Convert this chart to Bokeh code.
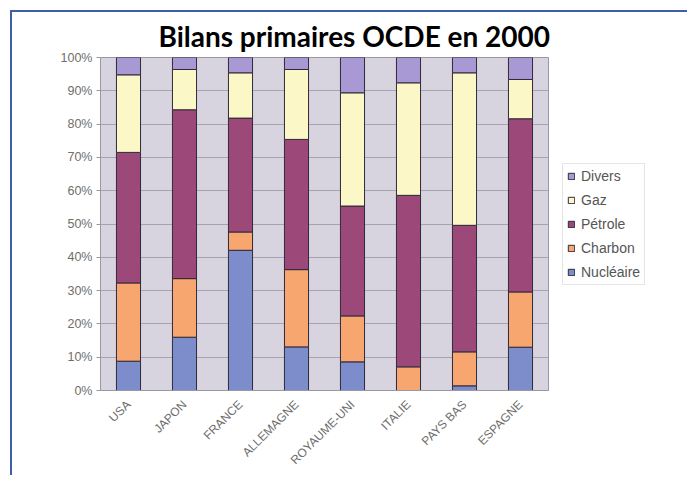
import math
from bokeh.plotting import figure
from bokeh.models import (FactorRange, Range1d, NumeralTickFormatter, FixedTicker,
                          Legend, LegendItem, ColumnDataSource)
from bokeh.embed import file_html
from bokeh.resources import INLINE

countries = ["USA", "JAPON", "FRANCE", "ALLEMAGNE", "ROYAUME-UNI", "ITALIE", "PAYS BAS", "ESPAGNE"]
nucleaire = [8.8, 16.0, 42.1, 13.1, 8.6, 0.0, 1.4, 13.0]
charbon = [23.5, 17.6, 5.5, 23.2, 13.8, 7.1, 10.2, 16.6]
petrole = [39.2, 50.7, 34.2, 39.1, 33.0, 51.5, 38.0, 52.0]
gaz = [23.3, 12.1, 13.6, 21.0, 34.0, 33.8, 45.8, 11.8]
divers = [5.2, 3.6, 4.6, 3.6, 10.6, 7.6, 4.6, 6.6]

series = ["Nucléaire", "Charbon", "Pétrole", "Gaz", "Divers"]
colors = ["#7d8dcc", "#f6a66e", "#9c4878", "#fbf7c6", "#a898d4"]
yticks = [0, 10, 20, 30, 40, 50, 60, 70, 80, 90, 100]

data = {"country": countries}
for name, vals in zip(series, [nucleaire, charbon, petrole, gaz, divers]):
    data[name] = [v / 100.0 for v in vals]
src = ColumnDataSource(data)

p = figure(x_range=FactorRange(*countries, range_padding=0), y_range=Range1d(0, 1),
           frame_width=448, frame_height=333, output_backend="svg", toolbar_location=None,
           min_border_left=88, min_border_right=10, min_border_top=45, min_border_bottom=76)
p.margin = (10, 0, 0, 10)
p.styles = {"border-top": "2px solid #3d5ea8", "border-left": "2px solid #3d5ea8",
            "box-sizing": "border-box"}

renderers = p.vbar_stack(series, x="country", width=0.43, source=src, color=colors,
                         line_color="#2e2a3a", line_width=1)

p.background_fill_color = "#d8d4df"
p.border_fill_color = "white"
p.outline_line_color = "#9a98a4"

p.ygrid.ticker = FixedTicker(ticks=[t / 100 for t in yticks])
p.ygrid.grid_line_color = "#a6a3ae"
p.xgrid.grid_line_color = None

p.yaxis.ticker = FixedTicker(ticks=[t / 100 for t in yticks])
p.yaxis.formatter = NumeralTickFormatter(format="0%")
p.yaxis.major_label_text_font = "Liberation Sans"
p.yaxis.major_label_text_font_size = "12.5px"
p.yaxis.major_label_text_color = "#6e6e6e"
p.yaxis.axis_line_color = "#9a98a4"
p.yaxis.major_tick_line_color = "#9a98a4"
p.yaxis.major_tick_out = 4
p.yaxis.major_tick_in = 0
p.yaxis.minor_tick_line_color = None
p.yaxis.major_label_standoff = 4

p.xaxis.major_label_orientation = math.pi / 4
p.xaxis.major_label_text_font = "Liberation Sans"
p.xaxis.major_label_text_font_size = "12px"
p.xaxis.major_label_text_color = "#6e6e6e"
p.xaxis.axis_line_color = "#9a98a4"
p.xaxis.major_tick_line_color = None
p.xaxis.minor_tick_line_color = None
p.xaxis.major_label_standoff = 6

p.title.text = "Bilans primaires OCDE en 2000"
p.title.text_font = "Lato"
p.title.text_font_style = "bold"
p.title.text_font_size = "28px"
p.title.align = "left"
p.title.offset = 58
p.title.standoff = 9
p.title.text_color = "black"

items = [LegendItem(label=series[i], renderers=[renderers[i]]) for i in range(4, -1, -1)]
legend = Legend(items=items, location="center_left", orientation="vertical")
legend.glyph_width = 8
legend.glyph_height = 8
legend.label_height = 14
legend.spacing = 8
legend.padding = 4
legend.margin = 14
legend.label_standoff = 6
legend.label_text_font = "Liberation Sans"
legend.label_text_font_size = "14px"
legend.label_text_color = "#555555"
legend.border_line_color = "#cccccc"
legend.background_fill_color = "white"
legend.background_fill_alpha = 1
p.add_layout(legend, "right")

open("out.html", "w").write(file_html(p, INLINE))
